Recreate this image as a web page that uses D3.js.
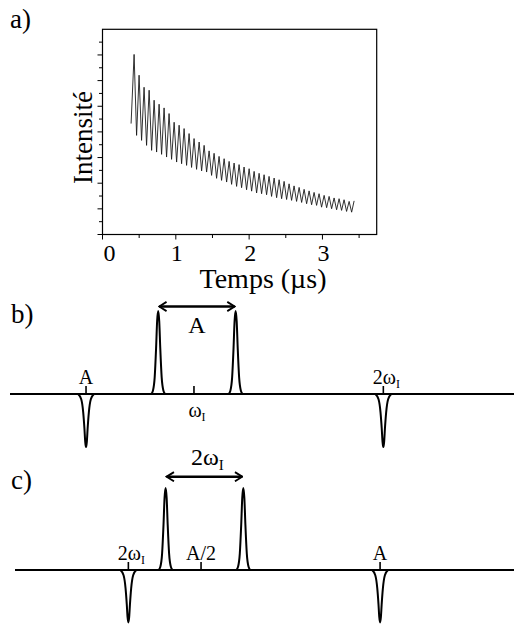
<!DOCTYPE html>
<html><head><meta charset="utf-8">
<script src="https://cdn.jsdelivr.net/npm/d3@7"></script>
<style>
html,body{margin:0;padding:0;background:#fff;}
svg{display:block;}
</style></head>
<body><svg id="c" width="514" height="626" font-family="Liberation Serif, DejaVu Serif, serif"></svg>
<script>
// ---------- Panel a : decay signal ----------
const xTicksA = [0, 1, 2, 3];
const xMinorA = [0.5, 1.5, 2.5, 3.5];
const yTicksA = [0,1,2,3,4,5,6,7,8,9,10,11,12,13,14,15];
const signalStart = [0.390, 8.65];
const peakT = [0.431,0.499,0.567,0.636,0.704,0.772,0.840,0.908,0.977,1.045,1.113,1.181,1.249,1.318,1.386,1.454,1.522,1.590,1.659,1.727,1.795,1.863,1.931,2.000,2.068,2.136,2.204,2.272,2.341,2.409,2.477,2.545,2.613,2.682,2.750,2.818,2.886,2.954,3.023,3.091,3.159,3.227,3.295,3.364,3.432];
const peakI = [14.04,12.42,11.48,11.25,10.47,10.16,9.87,9.43,8.75,8.52,8.26,7.87,7.48,7.21,6.95,6.52,6.33,6.09,5.91,5.70,5.57,5.45,5.26,5.13,4.92,4.77,4.66,4.53,4.40,4.27,4.14,3.95,3.79,3.67,3.52,3.40,3.28,3.18,3.05,2.97,2.85,2.79,2.71,2.58,2.62];
const troughT = [0.465,0.533,0.601,0.670,0.738,0.806,0.874,0.942,1.011,1.079,1.147,1.215,1.283,1.352,1.420,1.488,1.556,1.624,1.693,1.761,1.829,1.897,1.965,2.034,2.102,2.170,2.238,2.306,2.375,2.443,2.511,2.579,2.647,2.716,2.784,2.852,2.920,2.988,3.057,3.125,3.193,3.261,3.329,3.398];
const troughI = [7.73,7.34,6.95,6.56,6.43,6.25,6.04,5.86,5.65,5.52,5.39,5.23,5.08,4.96,4.87,4.61,4.38,4.22,4.09,3.91,3.75,3.65,3.49,3.38,3.24,3.18,3.10,2.97,2.87,2.79,2.73,2.66,2.58,2.50,2.40,2.32,2.27,2.13,2.09,2.01,1.93,1.88,1.80,1.74];

// ---------- Panels b and c : schematic spectra ----------
const upProfileDx = [-1,-0.75,-0.5,-0.3,-0.15,0,0.15,0.3,0.5,0.75,1];
const upProfileH  = [0,0.04,0.2,0.55,0.88,1,0.88,0.55,0.2,0.04,0];
const dnProfileDx = [-1,-0.6,-0.35,-0.2,-0.1,0,0.1,0.2,0.35,0.6,1];
const dnProfileH  = [0,0.1,0.35,0.65,0.9,1,0.9,0.65,0.35,0.1,0];

// panel b : frequency in units of ω_I
const bPeakPos = [0.430, 0.811, 1.220, 2.000];
const bPeakAmp = [-0.64, 1, 1, -0.64];
const bTickPos = [0.430, 1.000, 2.000];
const bTickMain = ["A", "ω", "2ω"];
const bTickSub  = ["", "I", "I"];
const bTickSide = ["above", "below", "above"];
const bArrow = [0.811, 1.220];
const bArrowMain = "A", bArrowSub = "";
const bDomain = [0.0285, 2.69];

// panel c : frequency in units of A
const cPeakPos = [0.297, 0.401, 0.618, 1.000];
const cPeakAmp = [-0.64, 1, 1, -0.64];
const cTickPos = [0.297, 0.500, 1.000];
const cTickMain = ["2ω", "A/2", "A"];
const cTickSub  = ["I", "", ""];
const cTickSide = ["above", "above", "above"];
const cArrow = [0.401, 0.618];
const cArrowMain = "2ω", cArrowSub = "I";
const cDomain = [-0.0196, 1.374];

const FONT = "Liberation Serif";
const svg = d3.select("#c");

const xA = d3.scaleLinear().domain([0, 3.74]).range([102.5, 376.7]);
const yA = d3.scaleLinear().domain([0, 16]).range([234.5, 29.3]);
const gA = svg.append("g");

gA.append("rect").attr("x", xA(0)).attr("y", yA(16))
  .attr("width", xA(3.74) - xA(0)).attr("height", yA(0) - yA(16))
  .attr("fill", "none").attr("stroke", "#000").attr("stroke-width", 1.2);

gA.selectAll(".yt").data(yTicksA).join("line")
  .attr("x1", xA(0)).attr("x2", d => xA(0) - (d % 2 === 0 ? 5 : 3.5))
  .attr("y1", d => yA(d)).attr("y2", d => yA(d))
  .attr("stroke", "#000").attr("stroke-width", 1);
gA.selectAll(".xt").data(xTicksA.concat(xMinorA)).join("line")
  .attr("x1", d => xA(d)).attr("x2", d => xA(d))
  .attr("y1", yA(0)).attr("y2", d => yA(0) + (Number.isInteger(d) ? 5 : 3.5))
  .attr("stroke", "#000").attr("stroke-width", 1);
gA.selectAll(".xl").data(xTicksA).join("text")
  .attr("font-family", FONT)
  .attr("x", d => xA(d) + (d === 0 ? 7 : 1)).attr("y", 261)
  .attr("text-anchor", "middle").attr("font-size", 24).text(d => d);

gA.append("text").attr("font-family", FONT).attr("x", 263).attr("y", 288).attr("text-anchor", "middle")
  .attr("font-size", 28).text("Temps (µs)");
gA.append("text").attr("font-family", FONT).attr("transform", "translate(92,137.5) rotate(-90)")
  .attr("text-anchor", "middle").attr("font-size", 27).text("Intensité");

const sig = [{t: signalStart[0], v: signalStart[1]}];
peakT.forEach((t, i) => {
  sig.push({t: t, v: peakI[i]});
  if (i < troughT.length) sig.push({t: troughT[i], v: troughI[i]});
});
gA.append("path").datum(sig)
  .attr("d", d3.line().x(d => xA(d.t)).y(d => yA(d.v)))
  .attr("fill", "none").attr("stroke", "#1a1a1a").attr("stroke-width", 0.9)
  .attr("stroke-linejoin", "miter");

svg.append("text").attr("font-family", FONT).attr("x", 10).attr("y", 28).attr("font-size", 27).text("a)");
svg.append("text").attr("font-family", FONT).attr("x", 11).attr("y", 323).attr("font-size", 27).text("b)");
svg.append("text").attr("font-family", FONT).attr("x", 11).attr("y", 489).attr("font-size", 27).text("c)");

const defs = svg.append("defs");
defs.append("marker").attr("id", "ah").attr("viewBox", "0 -6 10 12")
  .attr("refX", 9).attr("refY", 0).attr("markerWidth", 4).attr("markerHeight", 4.6)
  .attr("markerUnits", "strokeWidth").attr("orient", "auto-start-reverse")
  .append("path").attr("d", "M1,-5L9,0L1,5").attr("fill", "none")
  .attr("stroke", "#000").attr("stroke-width", 2);

function spectrum(o) {
  const x = d3.scaleLinear().domain(o.domain).range([o.left, 514]);
  const y = d3.scaleLinear().domain([0, 1]).range([o.base, o.base - o.h]);
  const g = svg.append("g");
  g.append("line").attr("x1", x(o.domain[0])).attr("x2", x(o.domain[1]))
    .attr("y1", y(0)).attr("y2", y(0)).attr("stroke", "#000").attr("stroke-width", 2);
  g.selectAll(".tk").data(o.tickPos).join("line")
    .attr("x1", d => x(d)).attr("x2", d => x(d))
    .attr("y1", y(0)).attr("y2", y(0) - 8).attr("stroke", "#000").attr("stroke-width", 1.6);
  o.peakPos.forEach((p, i) => {
    const amp = o.peakAmp[i];
    const up = amp > 0;
    const dxs = up ? upProfileDx : dnProfileDx;
    const hs = up ? upProfileH : dnProfileH;
    const hw = up ? 7 : 8;
    const pts = dxs.map((dx, j) => [x(p) + dx * hw, y(amp * hs[j])]);
    g.append("path").attr("d", d3.line().curve(d3.curveMonotoneX)(pts))
      .attr("fill", "none").attr("stroke", "#000").attr("stroke-width", 2)
      .attr("stroke-linejoin", "round");
  });
  o.tickPos.forEach((p, i) => {
    const t = g.append("text").attr("font-family", FONT).attr("x", x(p) + (o.tickSub[i] ? 3 : 0))
      .attr("y", o.tickSide[i] === "above" ? y(0) - 10 : y(0) + 23)
      .attr("text-anchor", "middle").attr("font-size", 20);
    t.append("tspan").text(o.tickMain[i]);
    if (o.tickSub[i]) t.append("tspan").attr("font-size", 12).attr("dy", 4).text(o.tickSub[i]);
  });
  g.append("line").attr("x1", x(o.arrow[0]) + 1).attr("x2", x(o.arrow[1]) - 1)
    .attr("y1", o.arrowY).attr("y2", o.arrowY)
    .attr("stroke", "#000").attr("stroke-width", 2.4)
    .attr("marker-start", "url(#ah)").attr("marker-end", "url(#ah)");
  const at = g.append("text").attr("font-family", FONT).attr("x", (x(o.arrow[0]) + x(o.arrow[1])) / 2 + (o.arrowSub ? 3 : 0))
    .attr("y", o.arrowLabelY).attr("text-anchor", "middle").attr("font-size", 24);
  at.append("tspan").text(o.arrowMain);
  if (o.arrowSub) at.append("tspan").attr("font-size", 15).attr("dy", 5).text(o.arrowSub);
}

spectrum({domain: bDomain, left: 10, base: 394, h: 83,
  peakPos: bPeakPos, peakAmp: bPeakAmp, tickPos: bTickPos, tickMain: bTickMain,
  tickSub: bTickSub, tickSide: bTickSide, arrow: bArrow, arrowY: 306.5,
  arrowMain: bArrowMain, arrowSub: bArrowSub, arrowLabelY: 333});
spectrum({domain: cDomain, left: 15, base: 570, h: 82,
  peakPos: cPeakPos, peakAmp: cPeakAmp, tickPos: cTickPos, tickMain: cTickMain,
  tickSub: cTickSub, tickSide: cTickSide, arrow: cArrow, arrowY: 476.7,
  arrowMain: cArrowMain, arrowSub: cArrowSub, arrowLabelY: 465});
</script></body></html>
